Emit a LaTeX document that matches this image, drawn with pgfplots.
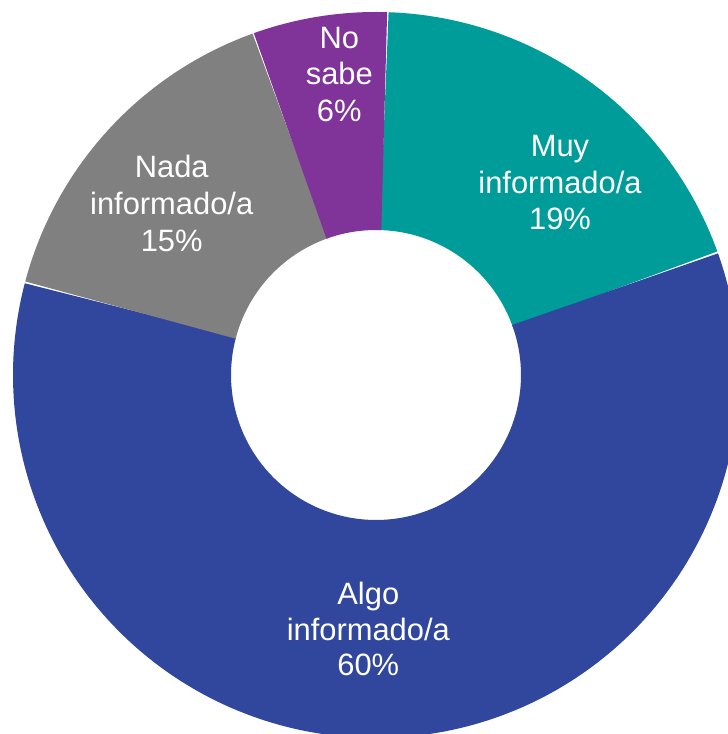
\documentclass[border=0pt]{standalone}
\usepackage{pgfplots}
\pgfplotsset{compat=1.18}
\usepackage{fontspec}
\setmainfont{Liberation Sans}
\definecolor{cMuy}{RGB}{0,156,154}
\definecolor{cAlgo}{RGB}{49,71,157}
\definecolor{cNada}{RGB}{128,128,128}
\definecolor{cNo}{RGB}{128,51,152}
% slice values (percent), clockwise from the top
\def\vMuy{19.0}
\def\vAlgo{59.6}
\def\vNada{15.4}
\def\vNo{6.0}
\pgfmathsetmacro\aStart{88.15}
\pgfmathsetmacro\aMuy{\aStart-3.6*\vMuy}
\pgfmathsetmacro\aAlgo{\aMuy-3.6*\vAlgo}
\pgfmathsetmacro\aNada{\aAlgo-3.6*\vNada}
\pgfmathsetmacro\aNo{\aNada-3.6*\vNo}
\newcommand\lbl[3]{\node[anchor=base,text=white,inner sep=0pt,font=\fontsize{31}{37}\selectfont] at (axis cs:#1,#2) {#3};}
\begin{document}
\begin{tikzpicture}
\begin{axis}[
  scale only axis, width=728bp, height=734bp,
  xmin=0, xmax=728, ymin=0, ymax=734,
  hide axis, clip=true,
]
\addplot[draw=cMuy, line width=218bp, domain=\aMuy:\aStart, samples=80, no marks] ({376+254*cos(x)},{359+254*sin(x)});
\addplot[draw=cAlgo, line width=218bp, domain=\aAlgo:\aMuy, samples=200, no marks] ({376+254*cos(x)},{359+254*sin(x)});
\addplot[draw=cNada, line width=218bp, domain=\aNada:\aAlgo, samples=80, no marks] ({376+254*cos(x)},{359+254*sin(x)});
\addplot[draw=cNo, line width=218bp, domain=\aNo:\aNada, samples=40, no marks] ({376+254*cos(x)},{359+254*sin(x)});
\lbl{171.7}{556.3}{Nada}
\lbl{171.7}{519.3}{informado/a}
\lbl{171.7}{482.3}{15\%}
\lbl{560}{577.3}{Muy}
\lbl{560}{540.7}{informado/a}
\lbl{560}{504}{19\%}
\lbl{368.3}{129.7}{Algo}
\lbl{368.3}{93}{informado/a}
\lbl{368.3}{58}{60\%}
\lbl{339.3}{685.7}{No}
\lbl{339.3}{649}{sabe}
\lbl{339.3}{612.3}{6\%}
\end{axis}
\pgfresetboundingbox
\path (current axis.south west) rectangle (current axis.north east);
\end{tikzpicture}
\end{document}
